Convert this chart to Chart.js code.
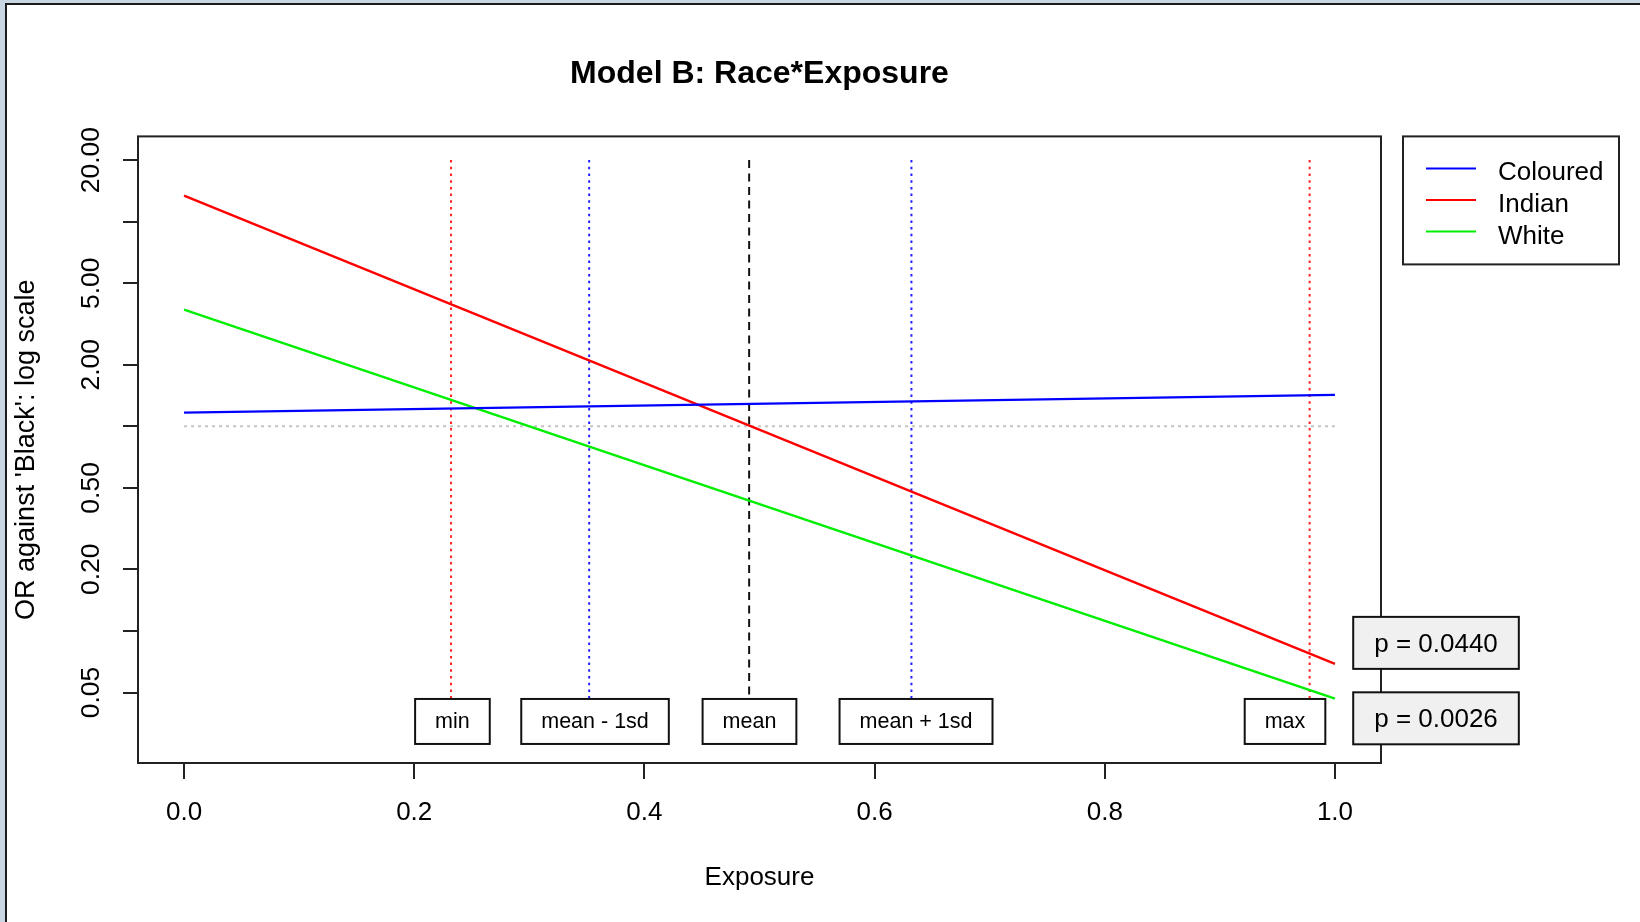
<!DOCTYPE html>
<html><head><meta charset="utf-8">
<script src="https://cdn.jsdelivr.net/npm/chart.js@4.4.1/dist/chart.umd.min.js"></script>
<style>
html,body{margin:0;padding:0;width:1640px;height:922px;overflow:hidden;background:#c8d6e4;}
#frame{position:absolute;left:5px;top:3px;width:1635px;height:919px;background:#fff;border-left:2px solid #1c1c1c;border-top:2px solid #1c1c1c;box-sizing:border-box;}
#c{position:absolute;left:0;top:0;}
</style></head><body>
<div id="frame"></div>
<canvas id="c" width="1640" height="922"></canvas>
<script>
// ---- data ----
const races = ['Coloured', 'Indian', 'White'];
const exposureRange = [0, 1];
const colouredOR = [1.167, 1.424];
const indianOR = [13.42, 0.0690];
const whiteOR = [3.72, 0.0467];
const referenceOR = [1, 1];
const markerNames = ['min', 'mean - 1sd', 'mean', 'mean + 1sd', 'max'];
const markerX = [0.232, 0.352, 0.491, 0.632, 0.978];
const markerLabelX = [0.2332, 0.3571, 0.4913, 0.636, 0.9566];
const markerLabelY = 0.0361;
const markerSpan = [20, 0.0361];
const pTexts = ['p = 0.0440', 'p = 0.0026'];
const pLabelX = 1.0878;
const pLabelY = [0.0874, 0.0374];
const xTicks = [0, 0.2, 0.4, 0.6, 0.8, 1.0];
const xTickLabels = ['0.0', '0.2', '0.4', '0.6', '0.8', '1.0'];
const yTicks = [0.05, 0.1, 0.2, 0.5, 1, 2, 5, 10, 20];
const yTickLabels = ['0.05', '', '0.20', '0.50', '', '2.00', '5.00', '', '20.00'];
const xLimits = [-0.04, 1.04];
const yLimits = [0.02262, 26.11];

// ---- styles ----
const FONT = "'Liberation Sans', Arial, Helvetica, sans-serif";
const raceColors = ['#0000ff', '#ff0000', '#00ee00'];
const markerColors = ['#ff2020', '#2020ff', '#111111', '#2020ff', '#ff2020'];
const markerDashes = [[2.5, 4.2], [2.5, 4.2], [8, 5.5], [2.5, 4.2], [2.5, 4.2]];
const raceSeries = [colouredOR, indianOR, whiteOR];

const datasets = [];
races.forEach((r, i) => {
  datasets.push({
    label: r,
    data: exposureRange.map((x, j) => ({x, y: raceSeries[i][j]})),
    borderColor: raceColors[i], borderWidth: 2.4, showLine: true, pointRadius: 0, fill: false
  });
});
datasets.push({
  label: 'reference',
  data: exposureRange.map((x, j) => ({x, y: referenceOR[j]})),
  borderColor: '#c4c4c4', borderWidth: 2, borderDash: [3, 4], showLine: true, pointRadius: 0, fill: false
});
markerNames.forEach((m, i) => {
  datasets.push({
    label: m,
    data: markerSpan.map(y => ({x: markerX[i], y})),
    borderColor: markerColors[i], borderWidth: 2, borderDash: markerDashes[i], showLine: true, pointRadius: 0, fill: false
  });
});

function drawBox(ctx, cx, cy, w, h, fill) {
  ctx.fillStyle = fill;
  ctx.fillRect(cx - w / 2, cy - h / 2, w, h);
  ctx.strokeStyle = '#111';
  ctx.lineWidth = 2;
  ctx.setLineDash([]);
  ctx.strokeRect(cx - w / 2, cy - h / 2, w, h);
}

const overlay = {
  id: 'overlay',
  afterDatasetsDraw(chart) {
    const {ctx, chartArea: a, scales: {x, y}} = chart;
    ctx.save();
    // plot frame
    ctx.strokeStyle = '#222'; ctx.lineWidth = 2; ctx.setLineDash([]);
    ctx.strokeRect(a.left, a.top, a.right - a.left, a.bottom - a.top);

    // y tick labels (rotated like the original)
    ctx.fillStyle = '#000';
    ctx.font = `26.5px ${FONT}`;
    yTicks.forEach((v, i) => {
      const t = yTickLabels[i];
      if (!t) return;
      const py = y.getPixelForValue(v);
      ctx.save();
      ctx.translate(a.left - 39, py);
      ctx.rotate(-Math.PI / 2);
      ctx.textAlign = 'center';
      ctx.textBaseline = 'alphabetic';
      ctx.fillText(t, 0, 0);
      ctx.restore();
    });

    // marker labels
    ctx.font = `21.5px ${FONT}`;
    markerNames.forEach((t, i) => {
      const cx = x.getPixelForValue(markerLabelX[i]);
      const cy = y.getPixelForValue(markerLabelY);
      const w = ctx.measureText(t).width + 40;
      drawBox(ctx, cx, cy, w, 45, '#ffffff');
      ctx.fillStyle = '#000';
      ctx.textAlign = 'center';
      ctx.textBaseline = 'middle';
      ctx.fillText(t, cx, cy + 1);
    });

    // p-value boxes
    ctx.font = `26px ${FONT}`;
    pTexts.forEach((t, i) => {
      const cx = x.getPixelForValue(pLabelX);
      const cy = y.getPixelForValue(pLabelY[i]);
      const w = ctx.measureText(t).width + 42;
      drawBox(ctx, cx, cy, w, 52, '#f0f0f0');
      ctx.fillStyle = '#000';
      ctx.textAlign = 'center';
      ctx.textBaseline = 'middle';
      ctx.fillText(t, cx, cy + 1.5);
    });

    // legend
    const lx = a.right + 22, ly = a.top, lw = 216, lh = 128;
    ctx.fillStyle = '#fff';
    ctx.fillRect(lx, ly, lw, lh);
    ctx.strokeStyle = '#222'; ctx.lineWidth = 2;
    ctx.strokeRect(lx, ly, lw, lh);
    ctx.font = `26px ${FONT}`;
    ctx.textAlign = 'left';
    ctx.textBaseline = 'alphabetic';
    races.forEach((r, i) => {
      const base = ly + 44 + i * 31.6;
      ctx.strokeStyle = raceColors[i];
      ctx.lineWidth = 2;
      ctx.beginPath();
      ctx.moveTo(lx + 23, base - 12);
      ctx.lineTo(lx + 73, base - 12);
      ctx.stroke();
      ctx.fillStyle = '#000';
      ctx.fillText(r, lx + 95, base);
    });
    ctx.restore();
  }
};

new Chart(document.getElementById('c'), {
  type: 'scatter',
  data: {datasets},
  options: {
    responsive: false,
    animation: false,
    devicePixelRatio: 1,
    layout: {padding: {left: 0, right: 259, top: 0, bottom: 0}},
    plugins: {
      legend: {display: false},
      tooltip: {enabled: false},
      title: {
        display: true, text: 'Model B: Race*Exposure', fullSize: false, color: '#000',
        font: {family: FONT, size: 32, weight: 'bold'}, padding: {top: 55, bottom: 43}
      }
    },
    scales: {
      x: {
        type: 'linear', min: xLimits[0], max: xLimits[1], bounds: 'data',
        afterBuildTicks: s => { s.ticks = xTicks.map(v => ({value: v})); },
        afterFit: s => { s.height = 159; },
        grid: {drawOnChartArea: false, drawTicks: true, tickLength: 16, tickWidth: 2, tickColor: '#222', lineWidth: 2, color: '#222'},
        border: {display: false},
        ticks: {autoSkip: false, maxRotation: 0, minRotation: 0, padding: 18, color: '#000',
          font: {family: FONT, size: 26}, callback: (v, i) => xTickLabels[i]},
        title: {display: true, text: 'Exposure', color: '#000', font: {family: FONT, size: 26}, padding: {top: 0, bottom: 29}}
      },
      y: {
        type: 'logarithmic', min: yLimits[0], max: yLimits[1], bounds: 'data',
        afterBuildTicks: s => { s.ticks = yTicks.map(v => ({value: v})); },
        afterFit: s => { s.width = 138; },
        grid: {drawOnChartArea: false, drawTicks: true, tickLength: 15, tickWidth: 2, tickColor: '#222', lineWidth: 2, color: '#222'},
        border: {display: false},
        ticks: {display: false, callback: (v, i) => yTickLabels[i]},
        title: {display: true, text: "OR against 'Black': log scale", color: '#000', font: {family: FONT, size: 27}, padding: {top: 10, bottom: 0}}
      }
    }
  },
  plugins: [overlay]
});
</script></body></html>
